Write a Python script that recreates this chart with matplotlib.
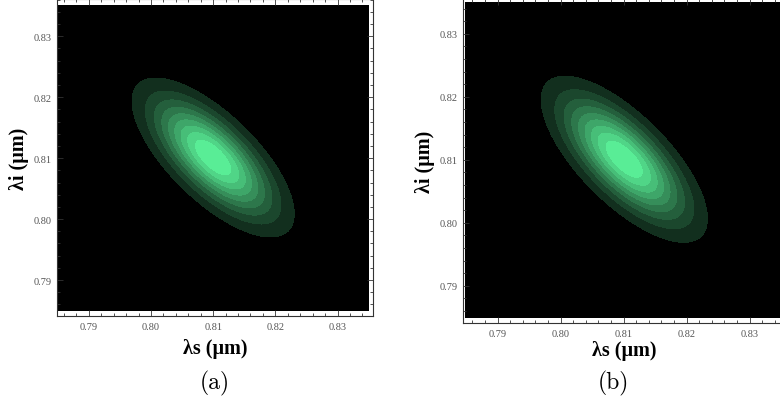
import numpy as np
import matplotlib.pyplot as plt
from matplotlib.colors import ListedColormap
from matplotlib.ticker import MultipleLocator

# plot range of the density (um) and grid size
plot_range = [0.785, 0.835]
n_grid = 400

# ellipse parameters: centre, widths along (1,-1) and (1,1)
centre_a = [0.8100, 0.8101]
centre_b = [0.8101, 0.8101]
sigma_major = [0.01120, 0.01135]
sigma_minor = [0.00460, 0.00460]

# contour levels and the colour of the brightest band
levels = [0.0, 0.1, 0.2, 0.3, 0.4, 0.5, 0.6, 0.7, 0.8, 0.9, 1.0]
peak_rgb = (0.35, 0.93, 0.59)

major_ticks = [0.79, 0.80, 0.81, 0.82, 0.83]
captions = ["(a)", "(b)"]

band_colors = [(0, 0, 0)] + [tuple(c * lv for c in peak_rgb) for lv in levels[2:]]
cmap = ListedColormap(band_colors)

x = np.linspace(plot_range[0], plot_range[1], n_grid)
X, Y = np.meshgrid(x, x)


def jsa(c, sa, sb):
    dx = X - c[0]
    dy = Y - c[1]
    v = (dx - dy) / np.sqrt(2)
    u = (dx + dy) / np.sqrt(2)
    return np.exp(-(v / sa) ** 2 - (u / sb) ** 2)


fig = plt.figure(figsize=(7.8, 4.02), dpi=100)

# axes boxes in figure fractions, limits include the white padding of the frame
boxes = [[0.0731, 0.2114, 0.4051, 0.7886], [0.5936, 0.1940, 0.4136, 0.8070]]
xlims = [(0.7849, 0.8357), (0.7845, 0.8357)]
ylims = [(0.7841, 0.8361), (0.7841, 0.8356)]
centres = [centre_a, centre_b]
caption_x = [215 / 780, 613 / 780]
xlabel_pad = [5, 2]

serif = "Liberation Serif"

for i in range(2):
    ax = fig.add_axes(boxes[i])
    Z = jsa(centres[i], sigma_major[i], sigma_minor[i])
    cs = ax.contourf(X, Y, Z, levels=levels, cmap=cmap)
    cs.set_edgecolor("face")
    cs.set_linewidth(0.4)
    ax.set_xlim(xlims[i])
    ax.set_ylim(ylims[i])
    ax.set_facecolor("white")

    ax.set_xticks(major_ticks)
    ax.set_yticks(major_ticks)
    ax.set_xticklabels([f"{t:.2f}" for t in major_ticks])
    ax.set_yticklabels([f"{t:.2f}" for t in major_ticks])
    ax.xaxis.set_minor_locator(MultipleLocator(0.002))
    ax.yaxis.set_minor_locator(MultipleLocator(0.002))
    ax.tick_params(which="both", direction="in", top=True, right=True,
                   color="#333333", width=0.6)
    ax.tick_params(which="major", length=4.5, labelsize=7.5, labelcolor="#555555", pad=4)
    ax.tick_params(which="minor", length=2.3)
    for lab in ax.get_xticklabels() + ax.get_yticklabels():
        lab.set_fontfamily(serif)
    for sp in ax.spines.values():
        sp.set_color("#333333")
        sp.set_linewidth(0.8)

    ax.set_xlabel("λs (μm)", fontsize=14.5, fontweight="bold", family=serif,
                  labelpad=xlabel_pad[i])
    ax.set_ylabel("λi (μm)", fontsize=14.5, fontweight="bold", family=serif, labelpad=3)

    fig.text(caption_x[i], 1 - 383 / 402, captions[i], ha="center", va="center",
             fontsize=17, family="cmr10")

fig.savefig("out.png", dpi=100)
